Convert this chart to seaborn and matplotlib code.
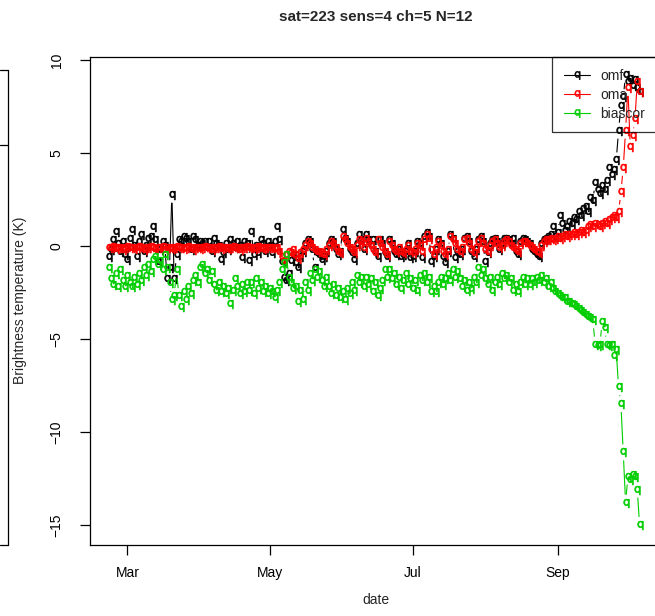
import numpy as np
import pandas as pd
import matplotlib
matplotlib.use("Agg")
import matplotlib.pyplot as plt
from matplotlib.collections import LineCollection
from matplotlib.lines import Line2D
import seaborn as sns

# ---------------- data ----------------
start_date = "2015-02-21"
n_days = 228

omf = [
    -0.6, -0.2, 0.3, 0.75, 0.1, -0.3, 0.2, -0.5, -0.75, 0.4,
    0.85, 0.0, -0.6, 0.2, 0.6, -0.3, 0.0, 0.4, 0.5, 1.0,
    0.3, -0.85, -0.2, 0.2, 0.0, -1.8, -1.2, 2.75, -1.8, -0.5,
    0.3, 0.2, 0.5, 0.4, 0.2, -0.2, 0.5, 0.3, 0.0, 0.2,
    0.1, 0.2, -0.1, 0.2, -0.3, 0.4, 0.1, 0.0, -0.75, -0.4,
    0.1, -0.2, 0.3, 0.1, -0.1, 0.2, 0.0, -0.65, 0.2, 0.1,
    -0.8, 0.75, -0.5, 0.0, -0.4, 0.3, 0.1, -0.3, 0.2, 0.0,
    -0.4, 0.2, 1.0, 0.3, -0.85, -1.7, -1.9, -1.5, -0.8, -0.5,
    -0.9, -1.2, -0.6, -0.3, 0.1, 0.3, 0.2, -0.2, -1.2, -0.4,
    -0.5, -0.75, -0.6, -0.3, 0.1, 0.3, 0.2, -0.2, -0.5, -0.3,
    0.85, 0.4, 0.2, -0.2, -0.4, -0.75, 0.1, 0.6, 0.3, -0.2,
    0.6, 0.3, 0.0, 0.3, -0.3, -0.6, 0.3, 0.1, -0.4, -0.6,
    0.3, 0.1, -0.3, -0.5, -0.2, -0.6, -0.5, -0.3, 0.1, -0.65,
    -0.6, -0.3, 0.2, 0.1, -0.65, 0.5, 0.7, 0.5, -0.85, -0.6,
    -0.2, 0.3, 0.1, -0.6, -0.9, -0.3, 0.6, 0.4, -0.65, -0.3,
    -0.5, -0.2, 0.4, 0.5, 0.2, -0.3, -0.6, -0.2, 0.3, 0.5,
    0.2, -0.85, -0.4, 0.1, 0.3, 0.4, 0.2, -0.2, 0.1, 0.4,
    0.4, 0.3, 0.1, 0.4, -0.3, -0.5, 0.2, 0.4, 0.3, 0.2,
    0.1, -0.2, -0.3, -0.5, -0.6, 0.1, 0.3, 0.4, 0.5, 0.6,
    1.0, 0.5, 0.7, 1.6, 1.2, 0.8, 1.0, 1.3, 1.2, 1.5,
    1.4, 1.8, 1.6, 2.0, 2.1, 1.8, 2.6, 2.4, 3.4, 3.0,
    2.8, 3.2, 3.0, 3.5, 4.2, 3.8, 4.1, 4.6, 6.2, 7.5,
    8.0, 9.2, 8.8, 9.0, 8.6, 8.9, 8.5, 8.3,
]

oma = [
    -0.1, -0.1, -0.05, -0.15, -0.1, -0.1, -0.2, -0.1, -0.05, -0.1,
    -0.1, -0.15, -0.1, -0.05, -0.1, -0.2, -0.1, -0.1, -0.05, -0.1,
    -0.15, -0.1, -0.1, -0.05, -0.2, -0.1, -0.1, -0.15, -0.1, -0.05,
    -0.1, -0.1, -0.15, -0.1, -0.05, -0.1, -0.2, -0.1, -0.1, -0.15,
    -0.1, -0.05, -0.1, -0.1, -0.2, -0.1, -0.1, -0.05, -0.15, -0.1,
    -0.1, -0.15, -0.1, -0.05, -0.1, -0.1, -0.2, -0.1, -0.1, -0.05,
    -0.1, -0.1, -0.15, -0.1, -0.05, -0.1, -0.15, -0.1, -0.1, -0.1,
    -0.1, -0.15, -0.1, -0.3, -0.6, -0.8, -0.5, -0.3, -0.4, -0.2,
    -0.5, -0.7, -0.4, -0.2, 0.0, 0.2, 0.1, -0.1, -0.2, -0.3,
    -0.3, -0.4, -0.5, -0.2, 0.0, 0.2, 0.1, -0.1, -0.3, -0.4,
    0.5, 0.3, 0.1, -0.1, -0.2, -0.4, 0.0, 0.3, 0.2, -0.1,
    0.4, 0.2, 0.0, -0.2, -0.4, 0.3, 0.1, -0.1, -0.3, -0.5,
    0.2, 0.0, -0.2, -0.3, -0.1, -0.3, -0.4, -0.2, 0.0, -0.3,
    -0.4, -0.2, 0.1, 0.0, -0.3, 0.3, 0.6, 0.4, -0.2, -0.5,
    -0.1, 0.2, 0.0, -0.3, -0.5, -0.2, 0.5, 0.3, 0.1, -0.2,
    -0.3, -0.1, 0.3, 0.4, 0.1, -0.2, -0.4, -0.1, 0.2, 0.4,
    0.1, -0.2, -0.3, 0.0, 0.2, 0.3, 0.1, -0.1, 0.0, 0.2,
    0.3, 0.2, 0.0, -0.1, -0.2, -0.3, 0.1, 0.2, 0.2, 0.1,
    0.0, -0.1, -0.2, -0.3, -0.4, 0.0, 0.2, 0.3, 0.3, 0.4,
    0.3, 0.4, 0.5, 0.4, 0.5, 0.6, 0.5, 0.6, 0.6, 0.7,
    0.6, 0.7, 0.8, 0.7, 0.8, 1.0, 1.1, 1.0, 1.2, 1.1,
    1.0, 1.2, 1.3, 1.2, 1.4, 1.5, 1.6, 1.5, 1.8, 2.9,
    4.2, 6.2, 8.5, 5.3, 5.9, 6.8, 8.8, 8.3,
]

biascor = [
    -1.2, -1.8, -2.1, -1.5, -2.2, -1.3, -1.9, -2.2, -1.6, -2.0,
    -2.2, -1.7, -2.1, -1.5, -1.9, -1.2, -1.6, -1.0, -1.4, -0.75,
    -0.6, -1.0, -0.8, -1.3, -0.5, -1.2, -2.0, -2.9, -2.7, -1.3,
    -2.7, -3.3, -2.5, -2.9, -2.2, -2.6, -1.9, -1.6, -2.0, -1.2,
    -1.0, -1.5, -1.3, -1.9, -1.4, -2.1, -2.4, -2.0, -2.5, -2.2,
    -2.6, -2.3, -3.1, -2.4, -1.8, -2.2, -2.6, -2.1, -2.5, -2.0,
    -2.4, -2.0, -2.6, -1.8, -2.3, -2.0, -2.5, -2.2, -2.6, -2.3,
    -2.5, -2.8, -2.4, -2.0, -1.3, -0.9, -0.5, -1.7, -2.0, -2.3,
    -2.2, -3.0, -2.4, -2.9, -2.0, -2.4, -1.5, -1.9, -1.3, -1.7,
    -1.4, -1.9, -2.2, -1.7, -2.2, -2.6, -2.1, -2.7, -2.3, -2.8,
    -2.5, -2.9, -2.3, -2.6, -2.0, -2.4, -1.6, -2.0, -1.7, -2.2,
    -1.7, -2.1, -1.8, -2.5, -2.0, -2.7, -2.3, -1.9, -1.3, -1.7,
    -1.3, -1.8, -1.5, -2.1, -1.7, -2.3, -1.9, -1.5, -2.1, -1.8,
    -2.3, -1.9, -2.4, -1.6, -1.9, -1.5, -2.0, -1.7, -2.5, -2.2,
    -2.5, -2.0, -1.7, -2.1, -1.8, -1.5, -1.9, -1.3, -1.7, -1.4,
    -1.8, -2.2, -1.9, -2.4, -2.0, -2.3, -1.7, -2.0, -1.2, -1.6,
    -1.3, -1.8, -2.1, -1.7, -2.4, -2.0, -1.7, -2.1, -1.5, -1.8,
    -1.6, -2.0, -1.8, -2.4, -2.1, -2.5, -2.0, -1.7, -2.1, -1.8,
    -2.1, -1.8, -2.0, -1.7, -1.9, -1.6, -2.0, -1.8, -2.2, -2.0,
    -2.3, -2.5, -2.6, -2.7, -2.8, -2.8, -3.0, -3.0, -3.1, -3.2,
    -3.3, -3.4, -3.5, -3.6, -3.7, -3.8, -3.9, -4.0, -5.3, -5.4,
    -5.3, -4.1, -4.4, -5.3, -5.4, -5.3, -5.9, -5.6, -7.6, -8.5,
    -11.1, -13.8, -12.4, -12.6, -12.3, -12.4, -13.1, -15.0,
]

series_names = ["omf", "oma", "biascor"]
series_colors = ["#000000", "#FF0000", "#00CD00"]

tick_dates = ["2015-03-01", "2015-05-01", "2015-07-01", "2015-09-01"]
tick_labels = ["Mar", "May", "Jul", "Sep"]
y_ticks = [-15, -10, -5, 0, 5, 10]

title_text = "sat=223 sens=4 ch=5 N=12"
x_label = "date"
y_label = "Brightness temperature (K)"

# ---------------- build table ----------------
dates = pd.date_range(start_date, periods=n_days, freq="D")
frames = []
for name, vals in zip(series_names, [omf, oma, biascor]):
    frames.append(pd.DataFrame({"date": dates, "value": vals, "series": name}))
df = pd.concat(frames, ignore_index=True)

# ---------------- style ----------------
sns.set_style("ticks")
plt.rcParams["font.family"] = ["Liberation Sans", "DejaVu Sans"]
plt.rcParams["axes.linewidth"] = 0.9

W, H = 655, 616
fig = plt.figure(figsize=(W / 100, H / 100), dpi=100)
ax_left, ax_right, ax_top, ax_bottom = 90, 663, 57, 545
ax = fig.add_axes([ax_left / W, 1 - ax_bottom / H,
                   (ax_right - ax_left) / W, (ax_bottom - ax_top) / H])

ax.set_xlim(pd.Timestamp("2015-02-13"), pd.Timestamp("2015-10-16"))
ax.set_ylim(-16.08, 10.16)

qmark = r"$\mathrm{q}$"
for i, (name, col) in enumerate(zip(series_names, series_colors)):
    sub = df[df["series"] == name]
    sns.scatterplot(data=sub, x="date", y="value", color=col, marker=qmark,
                    s=40, linewidth=0.5, edgecolor=col, ax=ax, legend=False,
                    zorder=3 + 2 * i)

# R type="b" style connecting lines with gaps around each point
fig.canvas.draw()
gap = 8.0
xnum = matplotlib.dates.date2num(dates)
inv = ax.transData.inverted()
for i, (name, col) in enumerate(zip(series_names, series_colors)):
    vals = df.loc[df["series"] == name, "value"].to_numpy()
    pts = ax.transData.transform(np.column_stack([xnum, vals]))
    segs = []
    for p0, p1 in zip(pts[:-1], pts[1:]):
        d = p1 - p0
        L = np.hypot(d[0], d[1])
        if L > 2 * gap + 0.5:
            u = d / L
            segs.append(inv.transform(np.array([p0 + u * gap, p1 - u * gap])))
    lc = LineCollection(segs, colors=col, linewidths=0.8, zorder=2 + 2 * i)
    ax.add_collection(lc)

# axes / ticks
ax.set_xticks(pd.to_datetime(tick_dates))
ax.set_xticklabels(tick_labels)
ax.set_yticks(y_ticks)
ax.set_yticklabels([str(v).replace("-", "\u2212") for v in y_ticks],
                   rotation=90, va="center")
ax.tick_params(axis="both", direction="out", length=7, width=0.9,
               labelsize=10, colors="black")
ax.tick_params(axis="x", pad=8)
ax.tick_params(axis="y", pad=12)
for s in ax.spines.values():
    s.set_visible(True)
    s.set_color("black")

ax.set_xlabel("")
ax.set_ylabel("")
fig.text(376 / W, 1 - 600 / H, x_label, ha="center", va="center", fontsize=10)
fig.text(20 / W, 1 - 300 / H, y_label, ha="center", va="center",
         rotation=90, fontsize=10)
fig.text(376 / W, 1 - 17 / H, title_text, ha="center", va="center",
         fontsize=11, fontweight="bold")

# legend (transparent background, like R's legend())
handles = [Line2D([0], [0], color=c, lw=0.8, marker=qmark, markersize=6,
                  markeredgewidth=0.4) for c in series_colors]
leg = ax.legend(handles, series_names, loc="upper left",
                bbox_to_anchor=(552 / W, 1 - 57 / H),
                bbox_transform=fig.transFigure, frameon=True, fancybox=False,
                fontsize=10, handlelength=1.9, handletextpad=0.75,
                labelspacing=0.35, borderpad=0.85, borderaxespad=0)
leg.get_frame().set_edgecolor("black")
leg.get_frame().set_facecolor("none")
leg.get_frame().set_linewidth(0.9)
leg.set_zorder(20)

# edge of the neighbouring panel at the far left
for (x0, y0, x1, y1) in [(0, 70, 8, 70), (8, 70, 8, 545), (0, 545, 8, 545),
                         (0, 145, 8, 145)]:
    fig.add_artist(Line2D([x0 / W, x1 / W], [1 - y0 / H, 1 - y1 / H],
                          transform=fig.transFigure, color="black", lw=0.9))

fig.savefig("out.png", dpi=100)
